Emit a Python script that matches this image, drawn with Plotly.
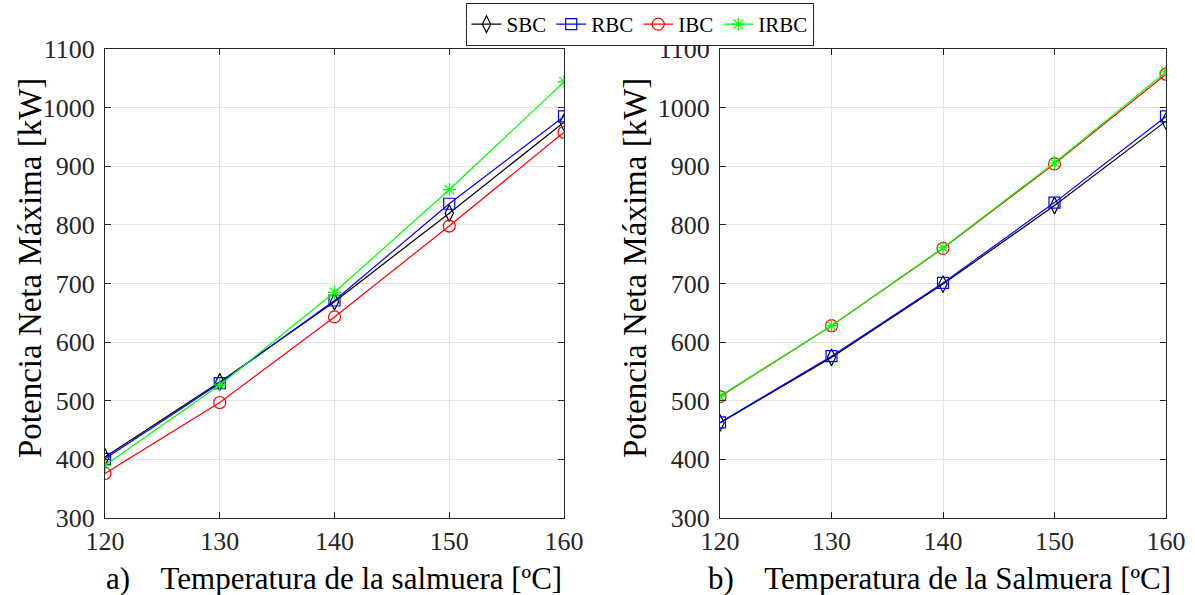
import plotly.graph_objects as go

temps = [120, 130, 140, 150, 160]

# Left panel (a)
a_sbc = [404, 532, 669, 820, 975]
a_rbc = [401, 530, 671, 836, 985]
a_ibc = [376, 497, 643, 798, 958]
a_irbc = [390, 527, 685, 860, 1044]

# Right panel (b)
b_sbc = [462, 574, 699, 833, 977]
b_rbc = [463, 576, 701, 838, 985]
b_ibc = [507, 628, 760, 904, 1057]
b_irbc = [508, 628, 761, 906, 1061]

names = ["SBC", "RBC", "IBC", "IRBC"]
colors = ["#000000", "#0000FF", "#FF0000", "#00FF00"]
symbols = ["diamond-tall-open", "square-open", "circle-open", "asterisk-open"]
sizes = [12, 11, 12, 11]

yticks = [300, 400, 500, 600, 700, 800, 900, 1000, 1100]
xticks = [120, 130, 140, 150, 160]

FONT = "Liberation Serif, Times New Roman, serif"

fig = go.Figure()

for panel, series in (("1", [a_sbc, a_rbc, a_ibc, a_irbc]), ("2", [b_sbc, b_rbc, b_ibc, b_irbc])):
    for i, vals in enumerate(series):
        fig.add_trace(go.Scatter(
            x=temps, y=vals, name=names[i], mode="lines+markers",
            line=dict(color=colors[i], width=1.2),
            marker=dict(symbol=symbols[i], size=sizes[i], color=colors[i],
                        line=dict(color=colors[i], width=1.2)),
            xaxis="x" if panel == "1" else "x2",
            yaxis="y" if panel == "1" else "y2",
            showlegend=(panel == "1"),
        ))

axis_common = dict(
    showline=True, linecolor="#262626", linewidth=1, mirror="ticks",
    ticks="inside", ticklen=6, tickcolor="#262626",
    showgrid=True, gridcolor="#E3E3E3", gridwidth=1,
    zeroline=False, automargin=False,
    tickfont=dict(family=FONT, size=26, color="#262626"),
)

fig.update_layout(
    width=1195, height=595,
    margin=dict(l=0, r=0, t=0, b=0),
    paper_bgcolor="white", plot_bgcolor="white",
    font=dict(family=FONT, color="#000000"),
    xaxis=dict(domain=[105/1195, 564/1195], range=[120, 160], tickvals=xticks, anchor="y", **axis_common),
    yaxis=dict(domain=[1-518/595, 1-49/595], range=[300, 1100], tickvals=yticks, anchor="x",
               ticklabelstandoff=4, **axis_common),
    xaxis2=dict(domain=[720/1195, 1166/1195], range=[120, 160], tickvals=xticks, anchor="y2", **axis_common),
    yaxis2=dict(domain=[1-518/595, 1-49/595], range=[300, 1100], tickvals=yticks, anchor="x2",
                ticklabelstandoff=4, **axis_common),
    legend=dict(
        orientation="h", x=639.5/1195, xanchor="center", y=1.0 - 3/595, yanchor="top",
        bordercolor="#262626", borderwidth=1, bgcolor="white",
        font=dict(family=FONT, size=21, color="#000000"),
        itemwidth=30, tracegroupgap=0,
    ),
    annotations=[
        dict(text="a)    Temperatura de la salmuera [ºC]", x=334/1195, y=1-578/595,
             xref="paper", yref="paper", showarrow=False, xanchor="center", yanchor="middle",
             font=dict(family=FONT, size=31, color="#000000")),
        dict(text="b)    Temperatura de la Salmuera [ºC]", x=939/1195, y=1-578/595,
             xref="paper", yref="paper", showarrow=False, xanchor="center", yanchor="middle",
             font=dict(family=FONT, size=31, color="#000000")),
        dict(text="Potencia Neta Máxima [kW]", x=30/1195, y=1-268/595, textangle=-90,
             xref="paper", yref="paper", showarrow=False, xanchor="center", yanchor="middle",
             font=dict(family=FONT, size=33, color="#000000")),
        dict(text="Potencia Neta Máxima [kW]", x=635/1195, y=1-268/595, textangle=-90,
             xref="paper", yref="paper", showarrow=False, xanchor="center", yanchor="middle",
             font=dict(family=FONT, size=33, color="#000000")),
    ],
)

fig.write_html("out.html")
